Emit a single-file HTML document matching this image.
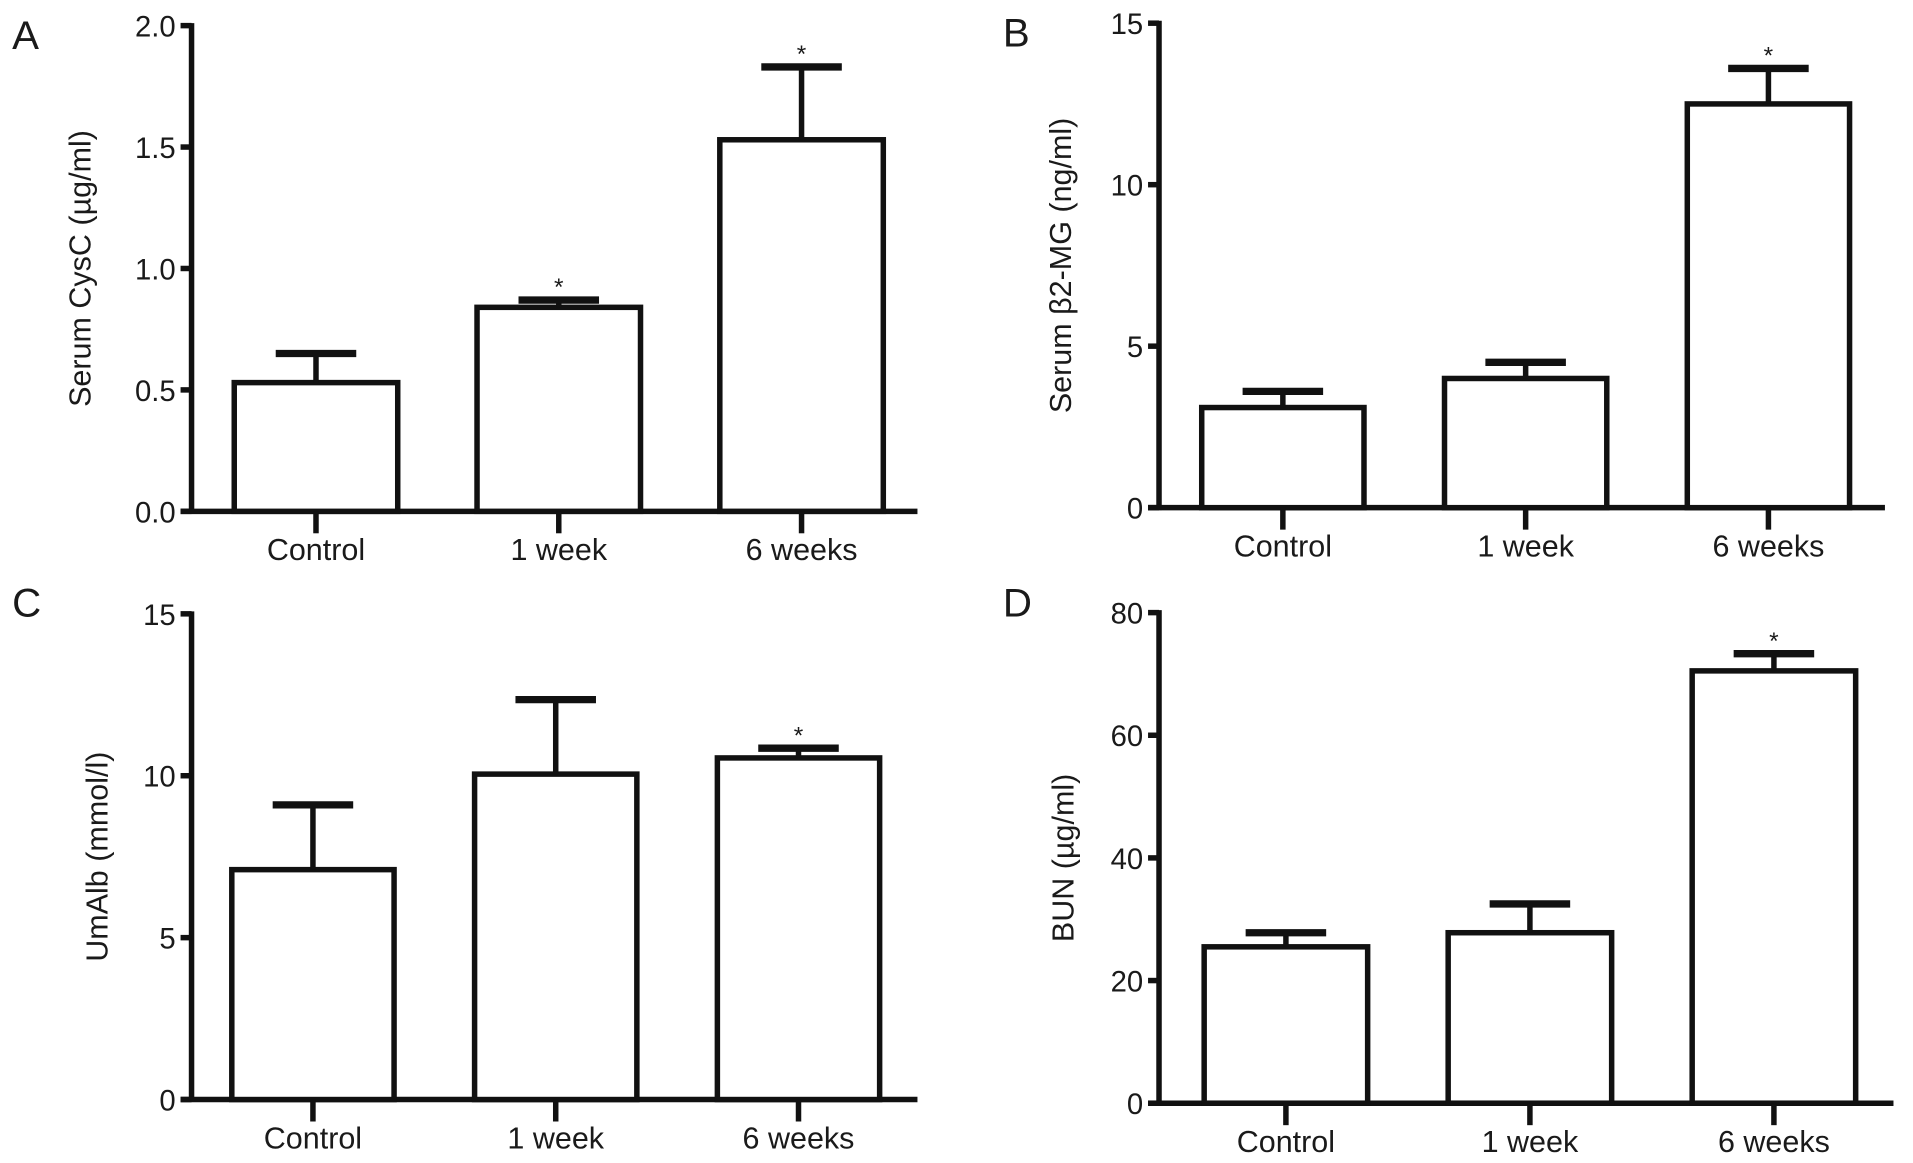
<!DOCTYPE html>
<html><head><meta charset="utf-8">
<style>
html,body{margin:0;padding:0;background:#fff;}
svg{display:block;}
text{font-family:"Liberation Sans",sans-serif;fill:#1a1a1a;}
</style></head>
<body>
<svg id="fig" width="1913" height="1163" viewBox="0 0 1568 953" preserveAspectRatio="none" xmlns="http://www.w3.org/2000/svg"></svg>
<script>
const categories = ["Control", "1 week", "6 weeks"];
const valuesA = [0.53, 0.84, 1.53];
const errTopA = [0.65, 0.87, 1.83];
const starsA = [false, true, true];
const ticksA = ["0.0", "0.5", "1.0", "1.5", "2.0"];
const valuesB = [3.1, 4.0, 12.5];
const errTopB = [3.6, 4.5, 13.6];
const starsB = [false, false, true];
const ticksB = ["0", "5", "10", "15"];
const valuesC = [7.1, 10.05, 10.55];
const errTopC = [9.1, 12.35, 10.85];
const starsC = [false, false, true];
const ticksC = ["0", "5", "10", "15"];
const valuesD = [25.5, 27.8, 70.5];
const errTopD = [27.8, 32.5, 73.3];
const starsD = [false, false, true];
const ticksD = ["0", "20", "40", "60", "80"];

const NS = "http://www.w3.org/2000/svg";
const svg = document.getElementById("fig");
function mk(tag, attrs, parent){
  const e = document.createElementNS(NS, tag);
  for (const k in attrs) e.setAttribute(k, attrs[k]);
  (parent||svg).appendChild(e);
  return e;
}
function panel(cfg, values, errTop, stars, ticks){
  const g = mk("g", {});
  
  
  const yMax = parseFloat(ticks[ticks.length-1]);
  const y = v => cfg.y0 - (v / yMax) * (cfg.y0 - cfg.yTop);
  const lw = 4.5;
  const L = mk("text", {x: cfg.letterX, y: cfg.letterY, "font-size": 33}, g);
  L.textContent = cfg.letter;
  
  
  const ya = mk("line", {x1: cfg.ax, y1: cfg.yTop - 2, x2: cfg.ax, y2: cfg.y0 + 2, stroke: "#111", "stroke-width": lw}, g);
  
  
  ticks.forEach(t => {
    const ty = y(parseFloat(t));
    const tk = mk("line", {x1: cfg.ax - 9, y1: ty, x2: cfg.ax, y2: ty, stroke: "#111", "stroke-width": lw}, g);
    
    
    const tl = mk("text", {x: cfg.ax - 13, y: ty + 9, "font-size": 24, "text-anchor": "end"}, g);
    tl.textContent = t;
    
    
  });
  const xa = mk("line", {x1: cfg.ax - 9, y1: cfg.y0, x2: cfg.xEnd, y2: cfg.y0, stroke: "#111", "stroke-width": lw}, g);
  
  
  const yt = mk("text", {x: 0, y: 0, "font-size": 25, "text-anchor": "middle", transform: `translate(${cfg.titleX},${(cfg.yTop + cfg.y0)/2}) rotate(-90)`}, g);
  yt.textContent = cfg.title;
  
  
  categories.forEach((c, i) => {
    const left = cfg.barX0 + i * cfg.step;
    const cx = left + cfg.barW / 2;
    const top = y(values[i]);
    const bar = mk("rect", {x: left, y: top, width: cfg.barW, height: cfg.y0 - top, fill: "#fff", stroke: "#111", "stroke-width": lw}, g);
    
    
    const et = y(errTop[i]);
    const ev = mk("line", {x1: cx, y1: top, x2: cx, y2: et, stroke: "#111", "stroke-width": lw}, g);
    
    
    const ec = mk("line", {x1: cx - 33, y1: et, x2: cx + 33, y2: et, stroke: "#111", "stroke-width": 6}, g);
    
    
    const xt = mk("line", {x1: cx, y1: cfg.y0, x2: cx, y2: cfg.y0 + 18, stroke: "#111", "stroke-width": lw}, g);
    
    
    const xl = mk("text", {x: cx, y: cfg.y0 + 40, "font-size": 25, "text-anchor": "middle"}, g);
    xl.textContent = c;
    
    
    if (stars[i]) {
      const s = mk("text", {x: cx, y: et - 4, "font-size": 20, "text-anchor": "middle"}, g);
      s.textContent = "*";
      
      
    }
  });
}
panel({id:"a", letter:"A", letterX:10, letterY:40, ax:157, yTop:21, y0:419, xEnd:752, barX0:192, barW:134, step:199, titleX:74, title:"Serum CysC (µg/ml)"}, valuesA, errTopA, starsA, ticksA);
panel({id:"b", letter:"B", letterX:822, letterY:38, ax:950, yTop:19, y0:416, xEnd:1545, barX0:985, barW:133, step:199, titleX:878, title:"Serum β2-MG (ng/ml)"}, valuesB, errTopB, starsB, ticksB);
panel({id:"c", letter:"C", letterX:10, letterY:505, ax:157, yTop:503, y0:901, xEnd:752, barX0:190, barW:133, step:199, titleX:88, title:"UmAlb (mmol/l)"}, valuesC, errTopC, starsC, ticksC);
panel({id:"d", letter:"D", letterX:822, letterY:505, ax:950, yTop:502, y0:904, xEnd:1552, barX0:987, barW:134, step:200, titleX:880, title:"BUN (µg/ml)"}, valuesD, errTopD, starsD, ticksD);
</script>
</body></html>
